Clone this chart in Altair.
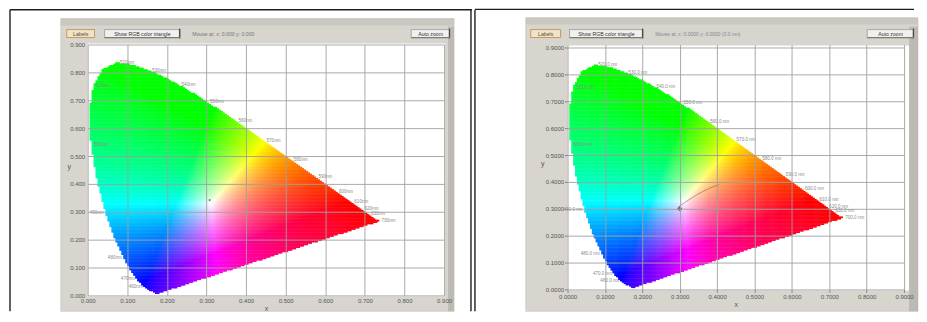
import numpy as np
import pandas as pd
import altair as alt

alt.data_transformers.disable_max_rows()

FONT = "Liberation Sans"

# CIE 1931 2-degree spectral locus (chromaticity x, y), 380-700 nm every 5 nm
WAVELENGTHS = list(range(380, 705, 5))
LOCUS_X = [0.1741, 0.1740, 0.1738, 0.1736, 0.1733, 0.1730, 0.1726, 0.1721,
           0.1714, 0.1703, 0.1689, 0.1669, 0.1644, 0.1611, 0.1566, 0.1510, 0.1440, 0.1355, 0.1241, 0.1096,
           0.0913, 0.0687, 0.0454, 0.0235, 0.0082, 0.0039, 0.0139, 0.0389, 0.0743, 0.1142, 0.1547, 0.1929,
           0.2296, 0.2658, 0.3016, 0.3373, 0.3731, 0.4087, 0.4441, 0.4788, 0.5125, 0.5448, 0.5752, 0.6029,
           0.6270, 0.6482, 0.6658, 0.6801, 0.6915, 0.7006, 0.7079, 0.7140, 0.7190, 0.7230, 0.7260, 0.7283,
           0.7300, 0.7311, 0.7320, 0.7327, 0.7334, 0.7340, 0.7344, 0.7346, 0.7347]
LOCUS_Y = [0.0050, 0.0050, 0.0049, 0.0049, 0.0048, 0.0048, 0.0048, 0.0048,
           0.0051, 0.0058, 0.0069, 0.0086, 0.0109, 0.0138, 0.0177, 0.0227, 0.0297, 0.0399, 0.0578, 0.0868,
           0.1327, 0.2007, 0.2950, 0.4127, 0.5384, 0.6548, 0.7502, 0.8120, 0.8338, 0.8262, 0.8059, 0.7816,
           0.7543, 0.7243, 0.6923, 0.6589, 0.6245, 0.5896, 0.5547, 0.5202, 0.4866, 0.4544, 0.4242, 0.3965,
           0.3725, 0.3514, 0.3340, 0.3197, 0.3083, 0.2993, 0.2920, 0.2859, 0.2809, 0.2770, 0.2740, 0.2717,
           0.2700, 0.2689, 0.2680, 0.2673, 0.2666, 0.2660, 0.2656, 0.2654, 0.2653]
assert len(WAVELENGTHS) == len(LOCUS_X) == len(LOCUS_Y)

LABEL_WL = [460, 470, 480, 490, 500, 510, 520, 530, 540, 550, 560, 570, 580, 590, 600, 610, 620, 630, 700]

# Planckian locus (right panel), 8000 K -> 3500 K
PLANCK_T = [8000, 6500, 5000, 4500, 4000, 3500]
PLANCK_X = [0.2952, 0.3135, 0.3451, 0.3608, 0.3805, 0.4053]
PLANCK_Y = [0.3048, 0.3236, 0.3516, 0.3636, 0.3768, 0.3907]

WHITE_RIGHT_X, WHITE_RIGHT_Y = [0.300], [0.300]
WHITE_LEFT_X, WHITE_LEFT_Y = [0.308], [0.342]

TICKS = [0.0, 0.1, 0.2, 0.3, 0.4, 0.5, 0.6, 0.7, 0.8, 0.9]

# ---------- gamut fill (colour of each chromaticity cell) ----------
STEP = 0.005


def inside_locus(px, py, vx, vy):
    vx = np.asarray(vx)
    vy = np.asarray(vy)
    res = np.zeros(px.shape, dtype=bool)
    for k in range(len(vx)):
        xi, yi = vx[k], vy[k]
        xj, yj = vx[k - 1], vy[k - 1]
        cond = ((yi > py) != (yj > py))
        with np.errstate(divide="ignore", invalid="ignore"):
            xint = (xj - xi) * (py - yi) / (yj - yi) + xi
        res ^= cond & (px < xint)
    return res


gx, gy = np.meshgrid(np.arange(0, 0.75, STEP), np.arange(0, 0.84, STEP))
gx = gx.ravel()
gy = gy.ravel()
cx = gx + STEP / 2
cy = gy + STEP / 2
mask = inside_locus(cx, cy, LOCUS_X, LOCUS_Y)
cx, cy, gx, gy = cx[mask], cy[mask], gx[mask], gy[mask]

M = np.array([[3.2406, -1.5372, -0.4986],
              [-0.9689, 1.8758, 0.0415],
              [0.0557, -0.2040, 1.0570]])
XYZ = np.vstack([cx / cy, np.ones_like(cx), (1 - cx - cy) / cy])
rgb = M @ XYZ
rgb = np.clip(rgb, 0, None)
rgb = rgb / rgb.max(axis=0)
rgb = np.power(rgb, 1 / 1.35)
ints = np.clip((rgb * 255 + 0.5).astype(int), 0, 255)
hexes = ["#%02x%02x%02x" % (r, g, b) for r, g, b in ints.T]

gamut = pd.DataFrame({"x": np.round(gx, 4), "y": np.round(gy, 4), "c": hexes})

wl_df = pd.DataFrame({"wl": WAVELENGTHS, "x": LOCUS_X, "y": LOCUS_Y})
lab = wl_df[wl_df["wl"].isin(LABEL_WL)].copy()
planck = pd.DataFrame({"t": PLANCK_T, "x": PLANCK_X, "y": PLANCK_Y})

ONE = alt.Data(values=[{"k": 0}])


def box(x1, y1, x2, y2, fill, stroke=None, sw=0.0):
    kw = {"fill": fill}
    if stroke is not None:
        kw["stroke"] = stroke
        kw["strokeWidth"] = sw
    else:
        kw["strokeWidth"] = 0
    return alt.Chart(ONE).mark_rect(**kw).encode(
        x=alt.value(x1), x2=alt.value(x2), y=alt.value(y1), y2=alt.value(y2))


def txt(x, y, s, size=5.5, color="#333333", align="center"):
    return alt.Chart(ONE).mark_text(text=s, fontSize=size, color=color, align=align,
                                    baseline="middle", font=FONT).encode(
        x=alt.value(x), y=alt.value(y))


def button(x1, y1, x2, y2, label, pressed=False):
    if pressed:
        return [box(x1, y1, x2, y2, "#f2e2c8", "#c49a62", 1.0),
                txt((x1 + x2) / 2, (y1 + y2) / 2, label, 5.2, "#5a4a30")]
    return [box(x1, y1, x2, y2, "#f1f0ec", "#9a9a9a", 0.8),
            box(x2 - 1.3, y1 - 1, x2, y2 + 1, "#4a4a4a"),
            box(x1, y2 - 0.6, x2, y2 + 0.6, "#7a7a7a"),
            txt((x1 + x2) / 2, (y1 + y2) / 2, label, 5.2, "#333333")]


def make_axis(fmt, title, is_y, ticks, label_pad, title_pad):
    kw = dict(values=TICKS, format=fmt, title=title, grid=True, gridColor="#a0a0a0",
              gridWidth=0.9, domain=False, ticks=ticks, labelFontSize=6, labelColor="#555555",
              labelFont=FONT, labelPadding=label_pad, labelFlush=False, labelOverlap=False,
              titleFont=FONT, titleFontSize=7, titleFontWeight="normal", titleColor="#555555",
              titlePadding=title_pad, zindex=1)
    if ticks:
        kw["tickSize"] = 3
        kw["tickColor"] = "#888888"
    if is_y:
        kw["titleAngle"] = 0
    return alt.Axis(**kw)


def data_layers(ydom, fmt, x_ticks, y_ticks, xlp, ylp, xtp, ytp, label_fmt):
    xs = alt.Scale(domain=[0, 0.9], nice=False, zero=False)
    ys = alt.Scale(domain=ydom, nice=False, zero=False)
    xa = make_axis(fmt, "x", False, x_ticks, xlp, xtp)
    ya = make_axis(fmt, "y", True, y_ticks, ylp, ytp)

    def X(f="x:Q"):
        return alt.X(f, scale=xs, axis=xa)

    def Y(f="y:Q"):
        return alt.Y(f, scale=ys, axis=ya)

    g = alt.Chart(gamut).transform_calculate(
        x2="datum.x + %f" % (STEP * 1.3), y2="datum.y + %f" % (STEP * 1.3)
    ).mark_rect(strokeWidth=0).encode(
        x=X(), x2="x2:Q", y=Y(), y2="y2:Q",
        color=alt.Color("c:N", scale=None),
    )
    left_lab = lab[lab["wl"] <= 490]
    right_lab = lab[lab["wl"] > 490]
    t1 = alt.Chart(left_lab).transform_calculate(t=label_fmt).mark_text(
        align="right", dx=-2, fontSize=4.6, color="#8a8a8a", font=FONT, baseline="middle"
    ).encode(x=X(), y=Y(), text="t:N")
    t2 = alt.Chart(right_lab).transform_calculate(t=label_fmt).mark_text(
        align="left", dx=3, fontSize=4.6, color="#8a8a8a", font=FONT, baseline="middle"
    ).encode(x=X(), y=Y(), text="t:N")
    return X, Y, g, t1, t2


# ---------------- left panel (plot origin = page 88,44) ----------------
XL, YL, gL, t1L, t2L = data_layers([0, 0.9], ".3f", False, False, 2, 3, 1, 1,
                                   "datum.wl + 'nm'")
left_layers = [
    box(-80, -36, 386, 268, "white"),
    box(-78.7, -35, -77.3, 268, "#1e1e1e"),
    box(-78, -35.6, 386, -34.2, "#1e1e1e"),
    box(384.3, -35, 385.7, 268, "#1e1e1e"),
    box(-27, -26, 368, 268, "#d8d5ce", "#c2bfb8", 0.6),
    box(-27, -26, 368, -19, "#cac7c0"),
    box(362, -18, 368, 268, "#bdbab3"),
    box(0, -1, 359, 253, "white"),
]
left_layers += button(-21, -15, 7, -7, "Labels", pressed=True)
left_layers += button(17, -15, 93, -7, "Show RGB color triangle")
left_layers += [txt(105, -11, "Mouse at: x: 0.000  y: 0.000", 5.2, "#777777", "left")]
left_layers += button(325, -15, 364, -7, "Auto zoom")
left_layers += [
    gL,
    alt.Chart(pd.DataFrame({"x": WHITE_LEFT_X, "y": WHITE_LEFT_Y})).mark_point(
        filled=True, size=5, color="#555555", opacity=0.7).encode(x=XL(), y=YL()),
    t1L, t2L,
]
left = alt.layer(*left_layers).properties(width=358, height=252)

# ---------------- right panel (plot origin = page 570,44) ----------------
XR, YR, gR, t1R, t2R = data_layers([0, 0.9111], ".4f", True, True, 1, 1, 1, 3,
                                   "format(datum.wl, '.1f') + ' nm'")
right_layers = [
    box(-93.7, -35, -92.3, 268, "#1e1e1e"),
    box(-93, -36, 348, -34.6, "#1e1e1e"),
    box(-42, -27, 352, 268, "#d8d5ce", "#c2bfb8", 0.6),
    box(-42, -27, 352, -20, "#cac7c0"),
    box(343, -18, 352, 268, "#bdbab3"),
    box(0, 1, 343, 247, "white"),
]
right_layers += button(-37, -15, -7, -7, "Labels", pressed=True)
right_layers += button(2, -15, 76, -7, "Show RGB color triangle")
right_layers += [txt(88, -11, "Mouse at: x: 0.0000  y: 0.0000  (0.0 nm)", 5.0, "#888888", "left")]
right_layers += button(301, -15, 348, -7, "Auto zoom")
right_layers += [
    gR,
    alt.Chart(planck).mark_line(color="#7a5a3a", strokeWidth=1, opacity=0.55).encode(
        x=XR(), y=YR(), order="t:Q"),
    alt.Chart(pd.DataFrame({"x": WHITE_RIGHT_X, "y": WHITE_RIGHT_Y})).mark_point(
        shape="cross", filled=True, size=22, color="#404040").encode(x=XR(), y=YR()),
    t1R, t2R,
]
right = alt.layer(*right_layers).properties(width=338, height=246)

chart = alt.hconcat(left, right, spacing=124, bounds="flush").properties(
    padding=0, background="white"
).configure_view(strokeWidth=0)

chart.save("out.html", embed_options={"renderer": "svg", "actions": False})
